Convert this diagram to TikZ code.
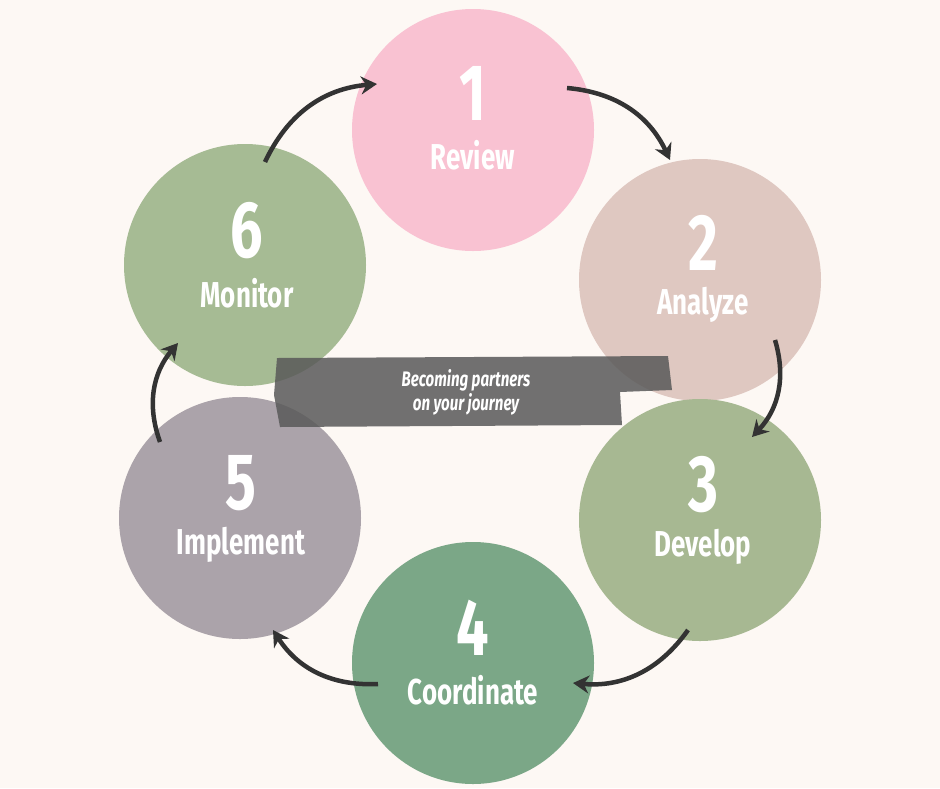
\documentclass[tikz,border=0pt]{standalone}
\usepackage{fontspec}
\setmainfont{Fira Sans}
\newfontfamily\cond[FakeStretch=0.72]{Fira Sans}
\usetikzlibrary{arrows.meta}
\definecolor{bg}{HTML}{FDF8F4}
\definecolor{cA}{HTML}{F9C2D2}
\definecolor{cB}{HTML}{DFC8C1}
\definecolor{cC}{HTML}{A7B892}
\definecolor{cD}{HTML}{7BA787}
\definecolor{cE}{HTML}{ABA3AA}
\definecolor{cF}{HTML}{A6BB94}
\definecolor{arr}{HTML}{333333}
\begin{document}
\begin{tikzpicture}[x=1pt,y=-1pt,
  blob/.style={circle,minimum size=242pt,inner sep=0pt},
  num/.style={text=white,font=\cond\bfseries\fontsize{80}{80}\selectfont},
  lab/.style={text=white,font=\cond\bfseries\fontsize{36}{36}\selectfont},
  flow/.style={draw=arr,line width=4.5pt,-{Stealth[length=16pt,width=18pt]}}]
\fill[bg] (0,0) rectangle (940,788);
\useasboundingbox (0,0) rectangle (940,788);
\node[blob,fill=cA] (c1) at (473,130) {};
\node[blob,fill=cB] (c2) at (700,280) {};
\node[blob,fill=cC] (c3) at (700,520) {};
\node[blob,fill=cD] (c4) at (473,663) {};
\node[blob,fill=cE] (c5) at (240,518) {};
\node[blob,fill=cF] (c6) at (245,265) {};
\foreach \i/\t/\x/\y in {1/Review/473/130,2/Analyze/703/280,3/Develop/703/522,4/Coordinate/473/665,5/Implement/241/520,6/Monitor/247/268}{
  \node[num] (n\i) at (\x,\y-37) {\i};
  \node[lab] (l\i) at (\x,\y+25) {\t};
}
\fill[black!65,opacity=0.85] (277,358) -- (668,356) -- (672,390) -- (620,392) -- (622,425) -- (280,427) -- (274,395) -- cycle;
\node[text=white,align=center,font=\cond\bfseries\itshape\fontsize{21}{24}\selectfont] (ban) at (466,392) {Becoming partners\\on your journey};
\coordinate (a1) at (567,88); \coordinate (b1) at (670,160);
\coordinate (a2) at (775,340); \coordinate (b2) at (752,437);
\coordinate (a3) at (688,630); \coordinate (b3) at (573,683);
\coordinate (a4) at (378,684); \coordinate (b4) at (273,630);
\coordinate (a5) at (160,442); \coordinate (b5) at (178,343);
\coordinate (a6) at (265,162); \coordinate (b6) at (377,84);
\draw[flow] (a1) to[bend left=30] (b1);
\draw[flow] (a2) to[bend left=30] (b2);
\draw[flow] (a3) to[bend left=30] (b3);
\draw[flow] (a4) to[bend left=30] (b4);
\draw[flow] (a5) to[bend left=30] (b5);
\draw[flow] (a6) to[bend left=30] (b6);
\end{tikzpicture}
\end{document}
